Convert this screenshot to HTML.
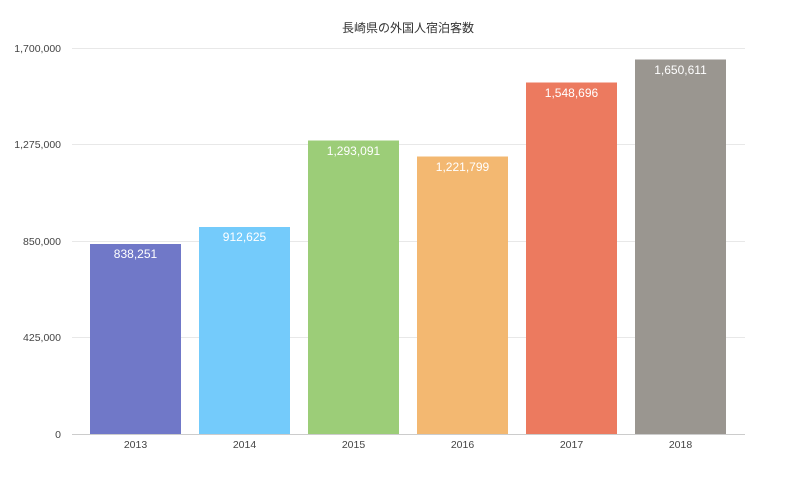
<!DOCTYPE html>
<html><head><meta charset="utf-8"><style>body{margin:0;background:#fff}</style></head><body>
<svg width="789" height="477" xmlns="http://www.w3.org/2000/svg" font-family="'Liberation Sans','Noto Sans CJK JP',sans-serif">
<text x="408" y="32" font-size="12" fill="#333" text-anchor="middle">長崎県の外国人宿泊客数</text>
<g stroke="#e8e8e8" stroke-width="1">
<line x1="72" x2="745" y1="48.5" y2="48.5"/><line x1="72" x2="745" y1="144.5" y2="144.5"/>
<line x1="72" x2="745" y1="241.5" y2="241.5"/><line x1="72" x2="745" y1="337.5" y2="337.5"/>
</g>
<g font-size="10.5" fill="#444" text-anchor="end">
<text x="61" y="52">1,700,000</text><text x="61" y="148">1,275,000</text>
<text x="61" y="245">850,000</text><text x="61" y="341">425,000</text><text x="61" y="438">0</text>
</g>
<rect x="90" y="244" width="91" height="190" fill="#7078c8"/>
<rect x="199" y="227" width="91" height="207" fill="#74cbfb"/>
<rect x="308" y="140.5" width="91" height="293.5" fill="#9ccd78"/>
<rect x="417" y="156.5" width="91" height="277.5" fill="#f3b871"/>
<rect x="526" y="82.5" width="91" height="351.5" fill="#ec7a5f"/>
<rect x="635" y="59.5" width="91" height="374.5" fill="#9a9690"/>
<line x1="72" x2="745" y1="434.5" y2="434.5" stroke="#ccc"/>
<g font-size="12" fill="#fff" text-anchor="middle">
<text x="135.5" y="258">838,251</text><text x="244.5" y="241">912,625</text>
<text x="353.5" y="155">1,293,091</text><text x="462.5" y="171">1,221,799</text>
<text x="571.5" y="97">1,548,696</text><text x="680.5" y="74">1,650,611</text>
</g>
<g font-size="10.5" fill="#444" text-anchor="middle">
<text x="135.5" y="448">2013</text><text x="244.5" y="448">2014</text><text x="353.5" y="448">2015</text>
<text x="462.5" y="448">2016</text><text x="571.5" y="448">2017</text><text x="680.5" y="448">2018</text>
</g>
</svg>
</body></html>
